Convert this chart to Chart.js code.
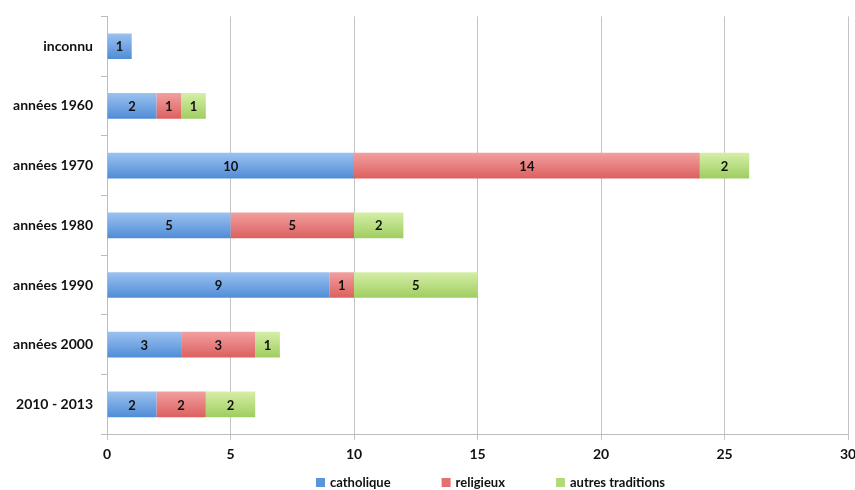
<!DOCTYPE html>
<html>
<head>
<meta charset="utf-8">
<script src="https://cdn.jsdelivr.net/npm/chart.js@4/dist/chart.umd.min.js"></script>
<style>
  html, body { margin: 0; padding: 0; background: #fff; }
  #wrap { width: 855px; height: 490px; }
</style>
</head>
<body>
<div id="wrap"><canvas id="myChart" width="855" height="490"></canvas></div>
<script>
// categories and series
const labels = ['inconnu', 'années 1960', 'années 1970', 'années 1980', 'années 1990', 'années 2000', '2010 - 2013'];
const catholique = [1, 2, 10, 5, 9, 3, 2];
const religieux = [0, 1, 14, 5, 1, 3, 2];
const autres = [0, 1, 2, 2, 5, 1, 2];
const xTicks = [0, 5, 10, 15, 20, 25, 30];

const FONT = 'Lato, "Open Sans", sans-serif';

// vertical gradient per bar, like the old office style
function grad(top, bottom) {
    return function (ctx) {
        const chart = ctx.chart;
        const yScale = chart.scales.y;
        if (!yScale || ctx.dataIndex === undefined) return bottom;
        const y = yScale.getPixelForValue(ctx.dataIndex);
        if (!isFinite(y)) return bottom; // scales not laid out yet
        const h = 13;
        const g = chart.ctx.createLinearGradient(0, y - h, 0, y + h);
        g.addColorStop(0, top);
        g.addColorStop(1, bottom);
        return g;
    };
}

// writes the value in the middle of each bar
const barValues = {
    id: 'barValues',
    afterDatasetsDraw(chart) {
        const c = chart.ctx;
        c.save();
        c.font = 'bold 13px ' + FONT;
        c.fillStyle = '#111';
        c.textAlign = 'center';
        c.textBaseline = 'middle';
        chart.data.datasets.forEach(function (ds, i) {
            const meta = chart.getDatasetMeta(i);
            meta.data.forEach(function (bar, j) {
                if (!ds.data[j]) return;
                const x = (bar.x + bar.base) / 2;
                c.fillText(String(ds.data[j]), x, bar.y + 1);
            });
        });
        c.restore();
    }
};

// legend drawn by hand: the built-in one can't have wide gaps without getting tall
const bottomLegend = {
    id: 'bottomLegend',
    afterDraw(chart) {
        const c = chart.ctx;
        c.save();
        c.font = 'bold 13px ' + FONT;
        c.textBaseline = 'middle';
        c.textAlign = 'left';
        let x = 316;
        const y = 483;
        chart.data.datasets.forEach(function (ds) {
            c.fillStyle = ds.legendColor;
            c.fillRect(x, y - 5, 9, 9);
            x += 14;
            c.fillStyle = '#111';
            c.fillText(ds.label, x, y);
            x += c.measureText(ds.label).width + 51;
        });
        c.restore();
    }
};

const data = {
    labels: labels,
    datasets: [
        { label: 'catholique', data: catholique, backgroundColor: grad('#9cc2f0', '#4f8cd6'), legendColor: '#5a95dc' },
        { label: 'religieux', data: religieux, backgroundColor: grad('#f2a0a0', '#dc5f5f'), legendColor: '#e47070' },
        { label: 'autres traditions', data: autres, backgroundColor: grad('#d6efa8', '#9fcd5f'), legendColor: '#b2da78' }
    ]
};

const config = {
    type: 'bar',
    data,
    plugins: [barValues, bottomLegend],
    options: {
        indexAxis: 'y',
        responsive: false,
        animation: false,
        layout: { padding: { top: 9, right: 2, left: 0, bottom: 21 } },
        datasets: { bar: { barPercentage: 0.43, categoryPercentage: 1.0 } },
        plugins: {
            legend: { display: false },
            tooltip: { enabled: false }
        },
        scales: {
            x: {
                stacked: true,
                min: 0,
                max: 30,
                afterBuildTicks: function (scale) {
                    scale.ticks = xTicks.map(function (v) { return { value: v }; });
                },
                afterFit: function (scale) { scale.paddingRight = 7; },
                grid: { color: '#c4c4c4', lineWidth: 1, tickLength: 6, drawTicks: true },
                border: { display: true, color: '#bdbdbd' },
                ticks: { color: '#111', padding: 6, font: { family: FONT, size: 14, weight: 'bold' } }
            },
            y: {
                stacked: true,
                afterFit: function (scale) { scale.width = 107; },
                grid: { display: true, drawOnChartArea: false, offset: true, tickLength: 6, color: '#bdbdbd' },
                border: { display: true, color: '#bdbdbd' },
                ticks: { color: '#111', padding: 8, font: { family: FONT, size: 14, weight: 'bold' } }
            }
        }
    }
};

const myChart = new Chart(document.getElementById('myChart'), config);
</script>
</body>
</html>
